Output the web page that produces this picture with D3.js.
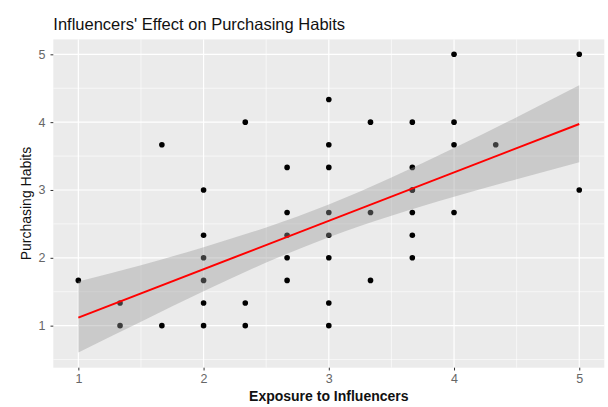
<!DOCTYPE html>
<meta charset="utf-8">
<script src="https://d3js.org/d3.v7.min.js"></script>
<style>
  body { margin: 0; background: #fff; }
  text { font-family: "Liberation Sans", Arial, sans-serif; }
</style>
<div id="chart"></div>
<script>

var exposure = [1, 1.333, 1.333, 1.667, 1.667,
  2, 2, 2, 2, 2, 2,
  2.333, 2.333, 2.333,
  2.667, 2.667, 2.667, 2.667, 2.667,
  3, 3, 3, 3, 3, 3, 3, 3,
  3.333, 3.333, 3.333,
  3.667, 3.667, 3.667, 3.667, 3.667, 3.667, 3.667,
  4, 4, 4, 4, 4.333, 5, 5];
var purchasing = [1.667, 1.333, 1, 1, 3.667,
  3, 2.333, 2, 1.667, 1.333, 1,
  4, 1.333, 1,
  3.333, 2.667, 2.333, 2, 1.667,
  4.333, 3.667, 3.333, 2.667, 2.333, 2, 1.333, 1,
  4, 2.667, 1.667,
  4, 3.333, 3, 2.667, 2.333, 2, 3,
  5, 4, 3.667, 2.667, 3.667, 5, 3];

// fitted line and its confidence band
var fitX = [1, 5];
var fitY = [1.118, 3.973];
var bandX = [1, 1.5, 2, 2.5, 3, 3.5, 4, 4.5, 5];
var bandLo = [0.605, 1.059, 1.507, 1.930, 2.304, 2.621, 2.900, 3.159, 3.409];
var bandHi = [1.650, 1.891, 2.157, 2.448, 2.786, 3.183, 3.618, 4.073, 4.545];

var xTicks = [1, 2, 3, 4, 5];
var yTicks = [1, 2, 3, 4, 5];
var xMinor = [1.5, 2.5, 3.5, 4.5];
var yMinor = [0.5, 1.5, 2.5, 3.5, 4.5];

var W = 608, H = 407;
var margin = {top: 39.4, right: 3.7, bottom: 39.3, left: 53.3},
    width = W - margin.left - margin.right,
    height = H - margin.top - margin.bottom;

var svg = d3.select("#chart")
  .append("svg")
    .attr("width", W)
    .attr("height", H);

var g = svg.append("g")
    .attr("transform", "translate(" + margin.left + "," + margin.top + ")");

var x = d3.scaleLinear().domain([0.8, 5.2]).range([0, width]);
var y = d3.scaleLinear().domain([0.38, 5.22]).range([height, 0]);

// panel
g.append("rect")
  .attr("width", width)
  .attr("height", height)
  .attr("fill", "#EBEBEB");

// grid
g.selectAll(".xminor").data(xMinor).enter().append("line")
  .attr("x1", function(d) { return x(d); }).attr("x2", function(d) { return x(d); })
  .attr("y1", 0).attr("y2", height)
  .attr("stroke", "#fff").attr("stroke-width", 0.6);
g.selectAll(".yminor").data(yMinor).enter().append("line")
  .attr("y1", function(d) { return y(d); }).attr("y2", function(d) { return y(d); })
  .attr("x1", 0).attr("x2", width)
  .attr("stroke", "#fff").attr("stroke-width", 0.6);
g.selectAll(".xmajor").data(xTicks).enter().append("line")
  .attr("x1", function(d) { return x(d); }).attr("x2", function(d) { return x(d); })
  .attr("y1", 0).attr("y2", height)
  .attr("stroke", "#fff").attr("stroke-width", 1.2);
g.selectAll(".ymajor").data(yTicks).enter().append("line")
  .attr("y1", function(d) { return y(d); }).attr("y2", function(d) { return y(d); })
  .attr("x1", 0).attr("x2", width)
  .attr("stroke", "#fff").attr("stroke-width", 1.2);

// points
var pts = exposure.map(function(d, i) { return [d, purchasing[i]]; });
g.selectAll(".pt").data(pts).enter().append("circle")
  .attr("cx", function(d) { return x(d[0]); })
  .attr("cy", function(d) { return y(d[1]); })
  .attr("r", 2.8)
  .attr("fill", "#000");

// confidence band
var band = bandX.map(function(d, i) { return [d, bandLo[i], bandHi[i]]; });
g.append("path")
  .datum(band)
  .attr("fill", "#999999")
  .attr("fill-opacity", 0.4)
  .attr("d", d3.area()
    .curve(d3.curveMonotoneX)
    .x(function(d) { return x(d[0]); })
    .y0(function(d) { return y(d[1]); })
    .y1(function(d) { return y(d[2]); }));

// fitted line
g.append("path")
  .datum(fitX.map(function(d, i) { return [d, fitY[i]]; }))
  .attr("fill", "none")
  .attr("stroke", "#FF0000")
  .attr("stroke-width", 2)
  .attr("d", d3.line()
    .x(function(d) { return x(d[0]); })
    .y(function(d) { return y(d[1]); }));

// axes
var xAxis = g.append("g")
  .attr("transform", "translate(0," + height + ")")
  .call(d3.axisBottom(x).tickValues(xTicks).tickFormat(d3.format("d")).tickSize(2.8).tickPadding(4));
var yAxis = g.append("g")
  .call(d3.axisLeft(y).tickValues(yTicks).tickFormat(d3.format("d")).tickSize(2.8).tickPadding(5));
[xAxis, yAxis].forEach(function(a) {
  a.select(".domain").remove();
  a.selectAll(".tick line").attr("stroke", "#333").attr("stroke-width", 1);
  a.selectAll(".tick text")
    .attr("fill", "#666")
    .style("font-size", "12.5px")
    .style("font-family", "'Liberation Sans', Arial, sans-serif");
});

// titles
svg.append("text")
  .attr("x", 53.3)
  .attr("y", 30)
  .text("Influencers' Effect on Purchasing Habits")
  .style("font-size", "16.5px")
  .attr("fill", "#111");

svg.append("text")
  .attr("x", margin.left + width / 2)
  .attr("y", 401)
  .attr("text-anchor", "middle")
  .text("Exposure to Influencers")
  .style("font-size", "14px")
  .style("font-weight", "bold")
  .attr("fill", "#111");

svg.append("text")
  .attr("transform", "translate(31," + (margin.top + height / 2) + ") rotate(-90)")
  .attr("text-anchor", "middle")
  .text("Purchasing Habits")
  .style("font-size", "14px")
  .attr("fill", "#111");

</script>
